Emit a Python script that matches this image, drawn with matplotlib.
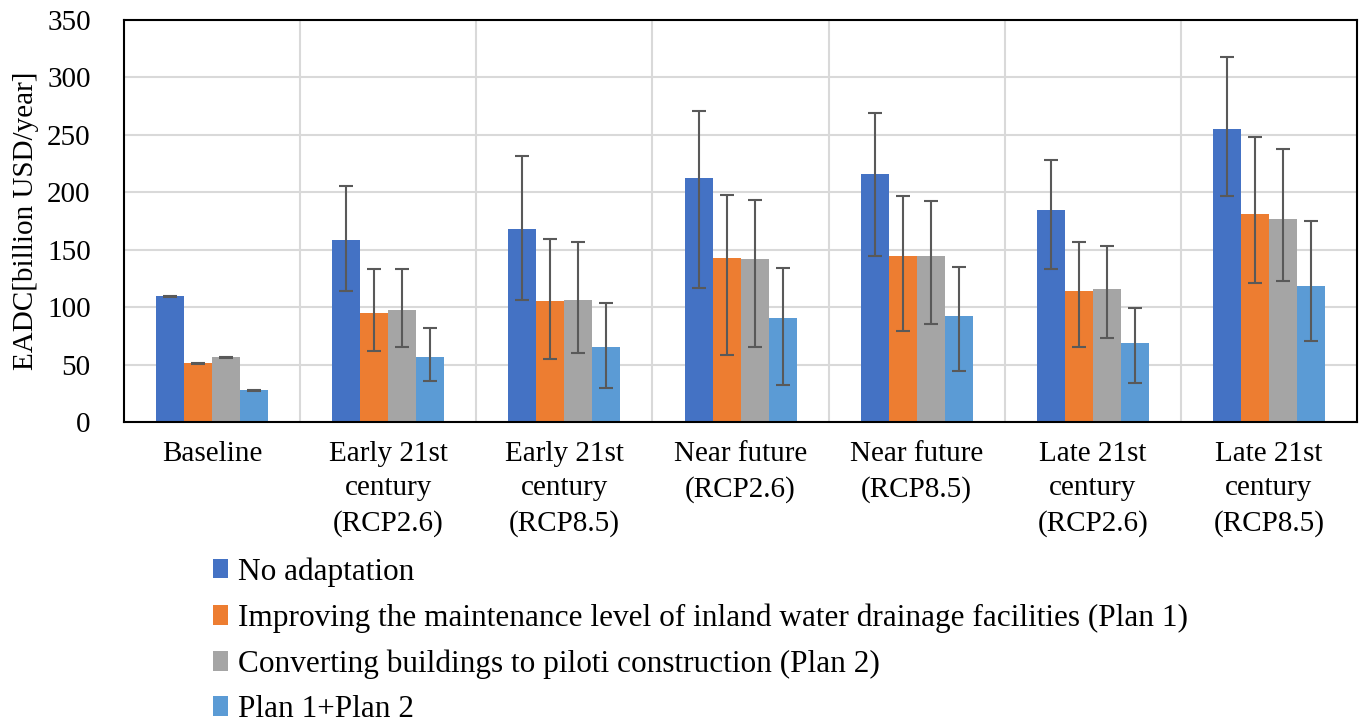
import numpy as np
import matplotlib
matplotlib.use("Agg")
import matplotlib.pyplot as plt
from matplotlib.patches import Patch

categories = [
    "Baseline",
    "Early 21st\ncentury\n(RCP2.6)",
    "Early 21st\ncentury\n(RCP8.5)",
    "Near future\n(RCP2.6)",
    "Near future\n(RCP8.5)",
    "Late 21st\ncentury\n(RCP2.6)",
    "Late 21st\ncentury\n(RCP8.5)",
]
series_names = [
    "No adaptation",
    "Improving the maintenance level of inland water drainage facilities (Plan 1)",
    "Converting buildings to piloti construction (Plan 2)",
    "Plan 1+Plan 2",
]

no_adapt = [109.4, 158.7, 168.3, 212.2, 216.2, 184.3, 254.8]
no_adapt_hi = [110.0, 205.5, 231.3, 271.0, 268.8, 228.4, 318.1]
no_adapt_lo = [108.8, 114.3, 106.5, 116.4, 144.8, 133.2, 196.8]

plan1 = [51.1, 94.6, 105.1, 142.5, 144.5, 114.3, 181.1]
plan1_hi = [51.6, 133.5, 159.6, 197.9, 196.8, 156.4, 248.4]
plan1_lo = [50.6, 62.1, 54.8, 58.6, 79.2, 65.6, 121.3]

plan2 = [56.3, 97.5, 106.5, 141.6, 144.5, 116.1, 176.7]
plan2_hi = [56.8, 133.5, 157.0, 193.0, 192.4, 153.5, 237.9]
plan2_lo = [55.8, 65.6, 59.8, 65.3, 85.1, 72.9, 123.0]

plan12 = [27.6, 56.6, 65.3, 90.3, 92.0, 69.1, 118.7]
plan12_hi = [28.0, 81.6, 103.3, 134.1, 134.9, 99.0, 175.0]
plan12_lo = [27.2, 36.0, 29.6, 32.2, 44.7, 34.2, 70.8]

values = [no_adapt, plan1, plan2, plan12]
highs = [no_adapt_hi, plan1_hi, plan2_hi, plan12_hi]
lows = [no_adapt_lo, plan1_lo, plan2_lo, plan12_lo]
colors = ["#4472C4", "#ED7D31", "#A5A5A5", "#5B9BD5"]

plt.rcParams["font.family"] = ["Liberation Serif", "DejaVu Serif"]

fig = plt.figure(figsize=(13.63, 7.23), dpi=100)
ax = fig.add_axes([0.091, 0.4163, 0.9046, 0.556])

x = np.arange(len(categories))
width = 0.159
for i, (vals, hi, lo, c) in enumerate(zip(values, highs, lows, colors)):
    vals = np.array(vals)
    pos = x + (i - 1.5) * width
    ax.bar(pos, vals, width=width, color=c, zorder=2)
    yerr = np.vstack([vals - np.array(lo), np.array(hi) - vals])
    ax.errorbar(pos, vals, yerr=yerr, fmt="none", ecolor="#595959",
                elinewidth=1.5, capsize=4.7, capthick=1.5, zorder=3)

ax.set_xlim(-0.5, len(categories) - 0.5)
ax.set_ylim(0, 350)
ax.set_yticks(np.arange(0, 351, 50))
ax.set_xticks(x)
ax.set_xticklabels(categories, fontsize=21, linespacing=1.4)
ax.tick_params(axis="x", length=0, pad=14)
ax.tick_params(axis="y", labelsize=21, length=0, pad=24)

ax.set_xticks(np.arange(0.5, len(categories) - 0.5, 1), minor=True)
ax.tick_params(axis="x", which="minor", length=0)
ax.grid(axis="y", which="major", color="#D9D9D9", linewidth=1.5, zorder=0)
ax.grid(axis="x", which="minor", color="#D9D9D9", linewidth=1.5, zorder=0)
ax.set_axisbelow(True)
for s in ax.spines.values():
    s.set_color("black")
    s.set_linewidth(1.5)

ax.set_ylabel("EADC[billion USD/year]", fontsize=21, labelpad=6)

handles = [Patch(facecolor=c, edgecolor="none") for c in colors]
fig.legend(handles, series_names, loc="upper left",
           bbox_to_anchor=(0.156, 0.2295), frameon=False, fontsize=22.5,
           handlelength=0.5, handleheight=0.6, handletextpad=0.3,
           labelspacing=0.53, borderaxespad=0, borderpad=0)

fig.savefig("out.png", dpi=100)
